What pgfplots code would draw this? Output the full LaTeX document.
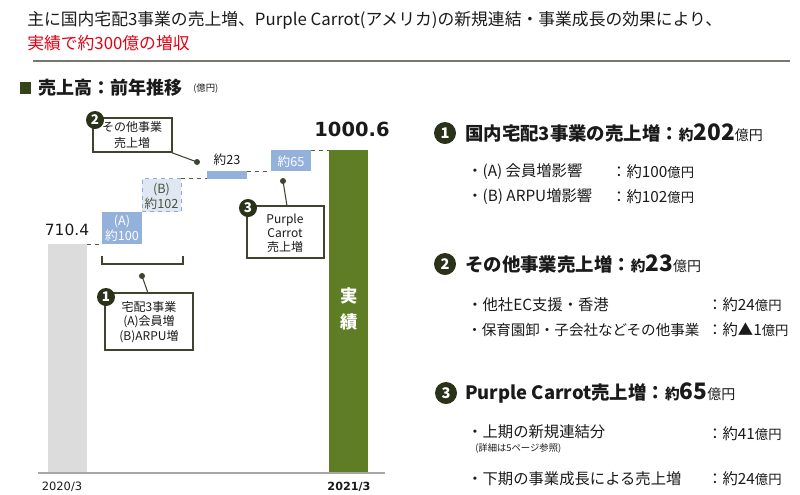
\documentclass[border=0pt]{standalone}
\usepackage{pgfplots}
\pgfplotsset{compat=1.18}
\usepackage{fontspec}
\setmainfont{Noto Sans CJK JP}
\newfontfamily\numf{DejaVu Sans}
\newcommand\fs[1]{\fontsize{#1}{#1}\selectfont}
\definecolor{darkc}{HTML}{2A3319}
\definecolor{olive}{HTML}{5F7D25}
\definecolor{rulec}{HTML}{77786A}
\definecolor{boxc}{HTML}{3D4530}
\definecolor{blueb}{HTML}{93B1DA}
\definecolor{lblue}{HTML}{DFE7F3}
\definecolor{dblue}{HTML}{8EAADB}
\definecolor{grayb}{HTML}{DCDCDC}
\definecolor{redc}{HTML}{E60012}
\definecolor{txt}{HTML}{1A1A1A}
\begin{document}
\begin{tikzpicture}
% chart (1px = 0.75pt; page top-left at (0,0), y downward negative)
\begin{axis}[at={(28.5pt,-354.75pt)},anchor=south west,scale only axis,
  width=260.25pt,height=279.75pt,xmin=38,xmax=385,ymin=0,ymax=1157,
  hide axis,clip=false]
\addplot[fill=grayb,draw=none] coordinates {(48,0) (87,0) (87,710.4) (48,710.4)} -- cycle;
\addplot[fill=olive,draw=none] coordinates {(329,0) (368,0) (368,1000.6) (329,1000.6)} -- cycle;
\addplot[fill=blueb,draw=none] coordinates {(102,710.4) (142,710.4) (142,810.4) (102,810.4)} -- cycle;
\addplot[fill=lblue,draw=dblue,dashed,line width=0.6pt] coordinates {(142,810.4) (181,810.4) (181,912.4) (142,912.4)} -- cycle;
\addplot[fill=blueb,draw=none] coordinates {(207,912.4) (247,912.4) (247,935.4) (207,935.4)} -- cycle;
\addplot[fill=blueb,draw=none] coordinates {(271,935.4) (311,935.4) (311,1000.6) (271,1000.6)} -- cycle;
\addplot[draw=gray!70,line width=0.9pt] coordinates {(38,0) (385,0)};
\addplot[draw=darkc!80,dashed,line width=0.6pt] coordinates {(87,710.4) (102,710.4)};
\addplot[draw=darkc!80,dashed,line width=0.6pt] coordinates {(181,912.4) (207,912.4)};
\addplot[draw=darkc!80,dashed,line width=0.6pt] coordinates {(247,935.4) (271,935.4)};
\addplot[draw=darkc!80,dashed,line width=0.6pt] coordinates {(311,1000.6) (329,1000.6)};
\end{axis}
\begin{scope}[x=0.75pt,y=-0.75pt,every node/.style={inner sep=0pt,text=txt}]
\useasboundingbox (0,0) rectangle (800,494);
% header
\node[anchor=west] at (27,20) {\fs{12.6}主に国内宅配3事業の売上増、Purple Carrot(アメリカ)の新規連結・事業成長の効果により、};
\node[anchor=west,text=redc] at (27,43) {\fs{12.6}実績で約300億の増収};
\draw[rulec,line width=1.5pt] (33,61) -- (790,61);
\fill[darkc!80!olive] (20,82) rectangle (31,94);
\node[anchor=west] at (38,88) {\fs{13.5}\bfseries 売上高：前年推移};
\node[anchor=west] at (193,89) {\fs{7}(億円)};
% values
\node at (67,230) {\numf\fs{11.6}710.4};
\node at (352,129) {\numf\fs{14.6}\bfseries 1000.6};
\node at (62,487) {\numf\fs{8.6}2020/3};
\node at (349,487) {\numf\fs{8.4}\bfseries 2021/3};
\node[align=center,text=white,font=\fontsize{9.5}{11.5}\selectfont] at (122,228) {(A)\\約100};
\node[align=center,text=darkc!85,font=\fontsize{9.5}{11.5}\selectfont] at (161.5,196) {(B)\\約102};
\node[text=white] at (291,162) {\fs{9.5}約65};
\node at (227,160) {\fs{9.5}約23};
\node[align=center,text=white,font=\fontsize{13}{20}\selectfont\bfseries] at (349,309) {実\\績};
% callout 1
\draw[boxc,line width=0.8pt] (102,256) -- (102,264) -- (183,264) -- (183,256);
\draw[boxc,line width=0.8pt] (142,276) -- (148,293);
\fill[boxc] (142,276) circle (3);
\draw[boxc,fill=white,line width=0.8pt] (105,293) rectangle (193,350);
\node[align=center,font=\fontsize{9}{10.9}\selectfont] at (149,322) {宅配3事業\\(A)会員増\\(B)ARPU増};
\node[circle,fill=darkc,minimum size=13.5pt,text=white] at (106,297) {\fs{10}\bfseries 1};
% callout 2
\draw[boxc,line width=0.8pt] (170,152) -- (197,162);
\fill[boxc] (197,162) circle (3);
\draw[boxc,fill=white,line width=0.8pt] (93,118) rectangle (172,152);
\node[align=center,font=\fontsize{9}{12}\selectfont] at (132,135) {その他事業\\売上増};
\node[circle,fill=darkc,minimum size=13.5pt,text=white] at (95,120) {\fs{10}\bfseries 2};
% callout 3
\draw[boxc,line width=0.8pt] (283,181) -- (287,206);
\fill[boxc] (283,181) circle (3);
\draw[boxc,fill=white,line width=0.8pt] (247,206) rectangle (324,258);
\node[align=center,font=\fontsize{9}{10.5}\selectfont] at (285,233) {Purple\\Carrot\\売上増};
\node[circle,fill=darkc,minimum size=13.5pt,text=white] at (248,208) {\fs{10}\bfseries 3};
% right side
\node[circle,fill=darkc,minimum size=16.5pt,text=white] at (445,133) {\fs{11}\bfseries 1};
\node[anchor=west] at (465,133) {\fs{13.8}\bfseries 国内宅配3事業の売上増：{\fs{11}約}{\fs{17}202}{\fs{10.5}\mdseries 億円}};
\node[anchor=west] at (467,172) {\fs{11.5}・(A) 会員増影響};
\node[anchor=west] at (611,172) {\fs{11.5}：約100{\fs{10}億円}};
\node[anchor=west] at (467,197) {\fs{11.5}・(B) ARPU増影響};
\node[anchor=west] at (611,197) {\fs{11.5}：約102{\fs{10}億円}};
\node[circle,fill=darkc,minimum size=16.5pt,text=white] at (445,264) {\fs{11}\bfseries 2};
\node[anchor=west] at (465,264) {\fs{13.8}\bfseries その他事業売上増：{\fs{11}約}{\fs{17}23}{\fs{10.5}\mdseries 億円}};
\node[anchor=west] at (467,305) {\fs{11.5}・他社EC支援・香港};
\node[anchor=west] at (707,305) {\fs{11.5}：約24{\fs{10}億円}};
\node[anchor=west] at (467,330) {\fs{10.9}・保育園卸・子会社などその他事業};
\node[anchor=west] at (707,330) {\fs{11.5}：約▲1{\fs{10}億円}};
\node[circle,fill=darkc,minimum size=16.5pt,text=white] at (446,393) {\fs{11}\bfseries 3};
\node[anchor=west] at (465,393) {\fs{13.8}\bfseries Purple Carrot売上増：{\fs{11}約}{\fs{17}65}{\fs{10.5}\mdseries 億円}};
\node[anchor=west] at (467,432) {\fs{11.5}・上期の新規連結分};
\node[anchor=west] at (475,448) {\fs{7}(詳細は5ページ参照)};
\node[anchor=west] at (707,434) {\fs{11.5}：約41{\fs{10}億円}};
\node[anchor=west] at (467,479) {\fs{11.5}・下期の事業成長による売上増};
\node[anchor=west] at (707,479) {\fs{11.5}：約24{\fs{10}億円}};
\end{scope}
\end{tikzpicture}
\end{document}
